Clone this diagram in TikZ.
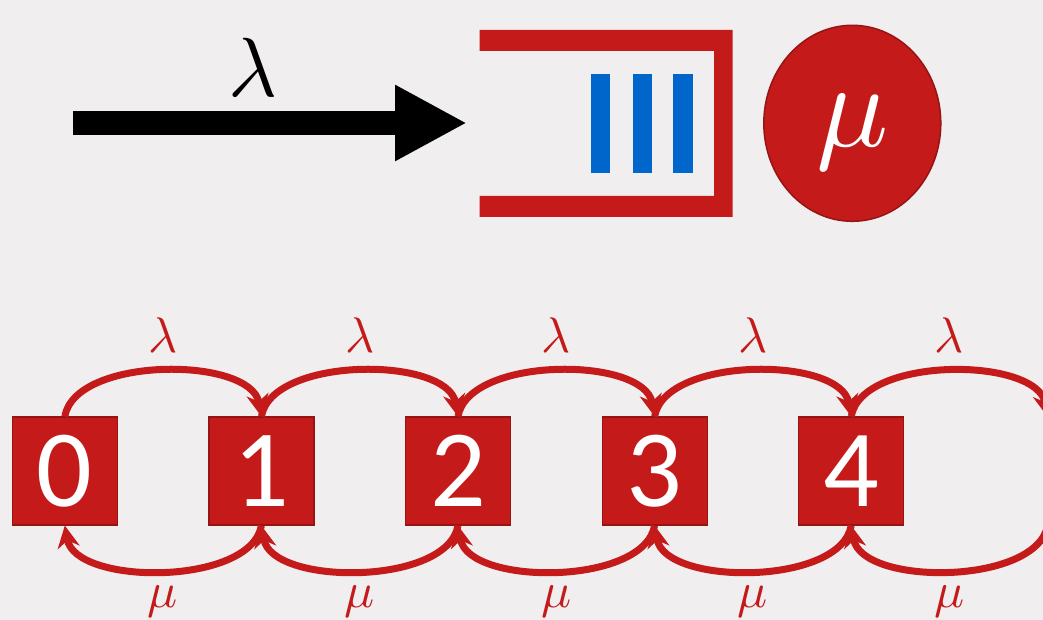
\documentclass[tikz,border=0pt]{standalone}
\usepackage{fontspec}
\newfontfamily\digitfont{Carlito}
\usetikzlibrary{arrows.meta,shapes.geometric}
\definecolor{bgc}{RGB}{240,238,239}
\definecolor{qred}{RGB}{196,26,26}
\definecolor{qdark}{RGB}{150,20,20}
\definecolor{qblue}{RGB}{0,102,204}
\tikzset{
  statebox/.style={rectangle, fill=qred, draw=qdark, line width=1.2pt, minimum width=105pt, minimum height=108pt, inner sep=0pt, text=white, font=\digitfont\fontsize{110}{110}\selectfont},
  trans/.style={draw=qred, line width=7pt, -{Stealth[length=22pt,width=22pt,inset=7pt]}},
  rlabel/.style={text=qred, inner sep=0pt},
}
\begin{document}
\begin{tikzpicture}[x=1pt,y=1pt]
\fill[bgc] (0,0) rectangle (1043,620);
\useasboundingbox (0,0) rectangle (1043,620);
% arrival arrow
\coordinate (src) at (73,497);
\coordinate (qin) at (467,497);
\draw[line width=24pt, -{Triangle[length=72pt,width=71pt]}] (src) -- (qin);
\node[inner sep=0pt] (lamtop) at (253,553) {\scalebox{8.4}{$\lambda$}};
% queue
\fill[qred] (479.7,590) -- (732.7,590) -- (732.7,403) -- (479.7,403) -- (479.7,424) -- (714,424) -- (714,569) -- (479.7,569) -- cycle;
\fill[qblue] (591.3,447.3) rectangle (610.3,545.7);
\fill[qblue] (632.7,447.3) rectangle (652,545.7);
\fill[qblue] (673.3,447.3) rectangle (692.7,545.7);
% server
\node[ellipse, fill=qred, draw=qdark, line width=1.5pt, minimum width=177pt, minimum height=196pt, inner sep=0pt] (server) at (852.3,496.7) {};
\node[text=white, inner sep=0pt] (mutop) at (852.3,488) {\scalebox{12}{$\mu$}};
% states
\foreach \i in {0,...,4} {
  \node[statebox] (b\i) at ({64.8+196.6*\i},149) {\i};
}
\coordinate (n5) at ({64.8+196.6*5},203);
\coordinate (s5) at ({64.8+196.6*5},95);
\foreach \i/\j in {0/1,1/2,2/3,3/4} {
  \draw[trans] (b\i.north) to[out=80,in=100,looseness=0.8] (b\j.north);
  \draw[trans] (b\j.south) to[out=-100,in=-80,looseness=0.8] (b\i.south);
  \node[rlabel] (l\i) at ({163+196.6*\i},285) {\scalebox{5}{$\lambda$}};
  \node[rlabel] (m\i) at ({163+196.6*\i},18) {\scalebox{5}{$\mu$}};
}
\draw[trans] (b4.north) to[out=80,in=100,looseness=0.8] (n5);
\draw[trans] (s5) to[out=-100,in=-80,looseness=0.8] (b4.south);
\node[rlabel] (l4) at ({163+196.6*4},285) {\scalebox{5}{$\lambda$}};
\node[rlabel] (m4) at ({163+196.6*4},18) {\scalebox{5}{$\mu$}};
\end{tikzpicture}
\end{document}
